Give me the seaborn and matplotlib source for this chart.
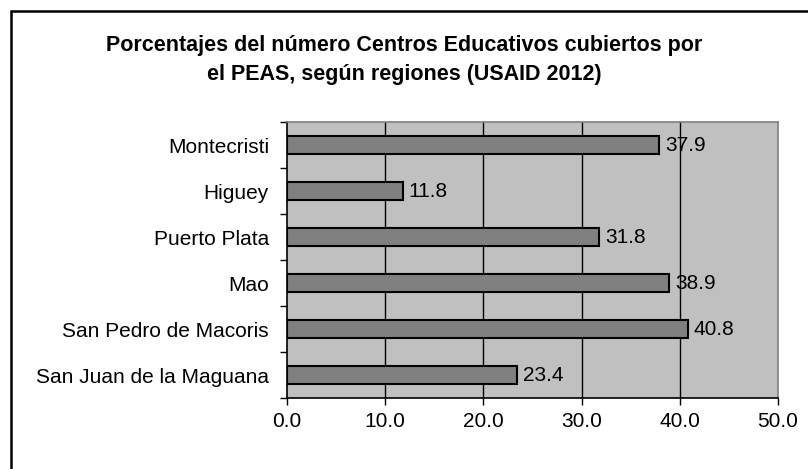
import matplotlib
matplotlib.use("Agg")
import matplotlib.pyplot as plt
import seaborn as sns
import pandas as pd
from matplotlib.patches import Rectangle

# datos del grafico
regiones = ['Montecristi', 'Higuey', 'Puerto Plata', 'Mao',
            'San Pedro de Macoris', 'San Juan de la Maguana']
porcentajes = [37.9, 11.8, 31.8, 38.9, 40.8, 23.4]
ticks_x = [0, 10, 20, 30, 40, 50]
titulo = ('Porcentajes del número Centros Educativos cubiertos por\n'
          'el PEAS, según regiones (USAID 2012)')

df = pd.DataFrame({'Region': regiones, 'Porcentaje': porcentajes})

sns.set_style('white')
plt.rcParams['font.family'] = ['Liberation Sans', 'DejaVu Sans']
plt.rcParams['text.color'] = 'black'
plt.rcParams['xtick.color'] = 'black'
plt.rcParams['ytick.color'] = 'black'

fig = plt.figure(figsize=(8.08, 4.69), dpi=100)
ax = fig.add_axes([287 / 808, 1 - 398 / 469, (778 - 287) / 808, (398 - 122) / 469])
ax.set_facecolor('#C0C0C0')

sns.barplot(data=df, x='Porcentaje', y='Region', orient='h', ax=ax,
            color='#808080', edgecolor='black', linewidth=1.5,
            width=0.39, saturation=1, zorder=3)

for i, v in enumerate(porcentajes):
    ax.text(v + 0.6, i, f'{v:.1f}', va='center', ha='left', fontsize=15, zorder=4)

ax.set_xlim(0, 50)
ax.set_ylim(5.5, -0.5)
ax.set_xticks(ticks_x)
ax.set_xticklabels([f'{t:.1f}' for t in ticks_x], fontsize=15)
ax.set_xlabel('')
ax.set_ylabel('')
ax.tick_params(axis='y', which='major', length=0, pad=13, labelsize=15)
ax.set_yticks([i - 0.5 for i in range(7)], minor=True)
ax.tick_params(axis='y', which='minor', length=5, width=1, color='black', direction='out', left=True)
ax.tick_params(axis='x', length=5, width=1, color='black', direction='out', bottom=True, pad=5)

for x in ticks_x[1:-1]:
    ax.axvline(x, color='black', lw=1, zorder=1)

ax.spines['left'].set_color('black')
ax.spines['bottom'].set_color('black')
ax.spines['left'].set_linewidth(1.2)
ax.spines['bottom'].set_linewidth(1.2)
for s in ['top', 'right']:
    ax.spines[s].set_color('#808080')
    ax.spines[s].set_linewidth(1.2)

fig.text(0.5, 1 - 60 / 469, titulo, ha='center', va='center', fontsize=15.5,
         fontweight='bold', linespacing=1.5)

# borde exterior del grafico
fig.patches.append(Rectangle((11 / 808, -0.1), 1.2, 1.1 - 11 / 469,
                             transform=fig.transFigure, fill=False,
                             edgecolor='black', linewidth=1.8))

fig.savefig('out.png', dpi=100)
